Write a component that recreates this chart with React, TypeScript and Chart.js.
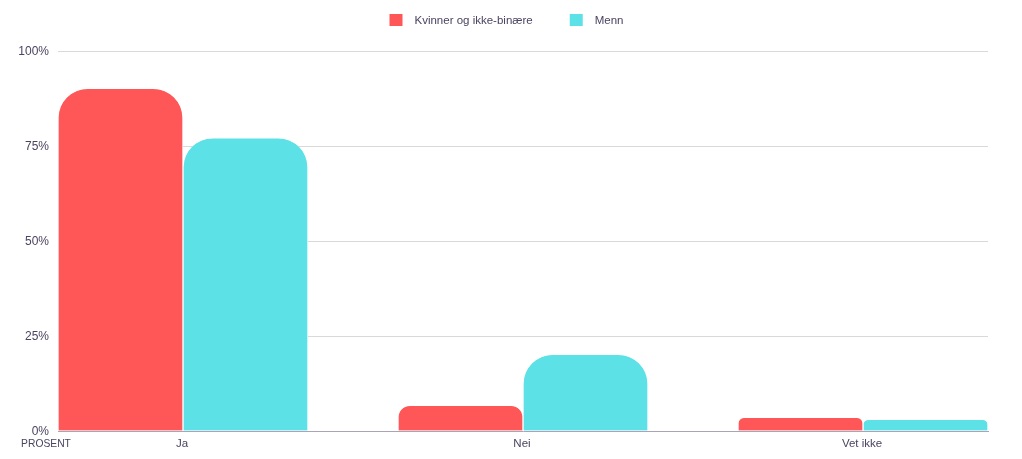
import React, { useEffect, useRef } from 'react';
import { Chart, registerables } from 'chart.js';

Chart.register(...registerables);

const categories = ['Ja', 'Nei', 'Vet ikke'];
const seriesNames = ['Kvinner og ikke-binære', 'Menn'];
const womenValues = [90, 6.6, 3.4];
const menValues = [77, 20, 2.9];
const yTicks = [0, 25, 50, 75, 100];
const axisTitle = 'PROSENT';

const RED = '#FF5757';
const CYAN = '#5CE1E6';
const TEXT = '#4b4361';
const FONT = '"Liberation Sans", Arial, sans-serif';
const X_MIN = -0.3676;
const X_MAX = 2.3676;

export default function App() {
  const ref = useRef<HTMLCanvasElement>(null);

  useEffect(() => {
    if (!ref.current) return;

    const legendPlugin = {
      id: 'customLegend',
      afterDraw(chart: any) {
        const ctx = chart.ctx as CanvasRenderingContext2D;
        ctx.save();
        ctx.font = `11.5px ${FONT}`;
        const box = 12;
        const gapText = 12;
        const gapItem = 38;
        const items = chart.data.datasets.map((d: any) => ({ text: d.label, color: d.backgroundColor }));
        const widths = items.map((it: any) => box + gapText + ctx.measureText(it.text).width);
        let x = 389.5;
        const y = 20;
        items.forEach((it: any, i: number) => {
          ctx.fillStyle = it.color;
          ctx.fillRect(x, y - box / 2, box + 1, box);
          ctx.fillStyle = TEXT;
          ctx.textBaseline = 'middle';
          ctx.textAlign = 'left';
          ctx.fillText(it.text, x + box + gapText + 1, y + 1);
          x += widths[i] + gapItem;
        });
        ctx.font = `10.3px ${FONT}`;
        ctx.textAlign = 'center';
        ctx.textBaseline = 'middle';
        ctx.fillStyle = TEXT;
        ctx.fillText(axisTitle, 46, chart.chartArea.bottom + 13);
        ctx.restore();
      },
    };

    const barCommon = {
      borderColor: '#ffffff',
      borderWidth: { left: 1, right: 1, top: 0, bottom: 0 },
      borderRadius: 30,
      borderSkipped: 'start',
      barThickness: 125,
    };

    const chart = new Chart(ref.current, {
      type: 'bar',
      data: {
        datasets: [
          {
            label: seriesNames[0],
            data: categories.map((_, i) => ({ x: i, y: womenValues[i] })),
            backgroundColor: RED,
            ...barCommon,
          } as any,
          {
            label: seriesNames[1],
            data: categories.map((_, i) => ({ x: i, y: menValues[i] })),
            backgroundColor: CYAN,
            ...barCommon,
          } as any,
        ],
      },
      options: {
        animation: false,
        responsive: true,
        maintainAspectRatio: false,
        layout: { padding: { top: 51, right: 34, left: 0, bottom: 0 } },
        plugins: {
          legend: { display: false },
          tooltip: { enabled: false },
        },
        scales: {
          x: {
            type: 'linear',
            offset: false,
            bounds: 'data',
            min: X_MIN,
            max: X_MAX,
            grid: { display: false, drawTicks: false, offset: false },
            border: { display: true, color: '#a9a4b6', width: 1 },
            ticks: {
              padding: 6,
              labelOffset: -1,
              color: TEXT,
              font: { family: FONT, size: 11.5 },
              maxRotation: 0,
              autoSkip: false,
              includeBounds: false,
              callback: (v: any) => categories[v] ?? '',
            },
            afterBuildTicks: (s: any) => {
              s.ticks = categories.map((_, i) => ({ value: i }));
              s.min = X_MIN;
              s.max = X_MAX;
            },
            afterFit: (s: any) => {
              s.height = 28;
            },
          },
          y: {
            min: 0,
            max: 100,
            grid: {
              color: (c: any) => (c.tick && c.tick.value === 0 ? 'rgba(0,0,0,0)' : '#d9d9d9'),
              drawTicks: false,
            },
            border: { display: false },
            ticks: {
              padding: 9,
              labelOffset: 1,
              color: TEXT,
              font: { family: FONT, size: 12 },
              callback: (v: any) => v + '%',
            },
            afterBuildTicks: (s: any) => {
              s.ticks = yTicks.map((v) => ({ value: v }));
            },
            afterFit: (s: any) => {
              s.width = 58;
            },
          },
        },
      } as any,
      plugins: [legendPlugin],
    });

    return () => chart.destroy();
  }, []);

  return (
    <div style={{ position: 'absolute', left: 0, top: 0, width: 1022, height: 459 }}>
      <canvas ref={ref} />
    </div>
  );
}
